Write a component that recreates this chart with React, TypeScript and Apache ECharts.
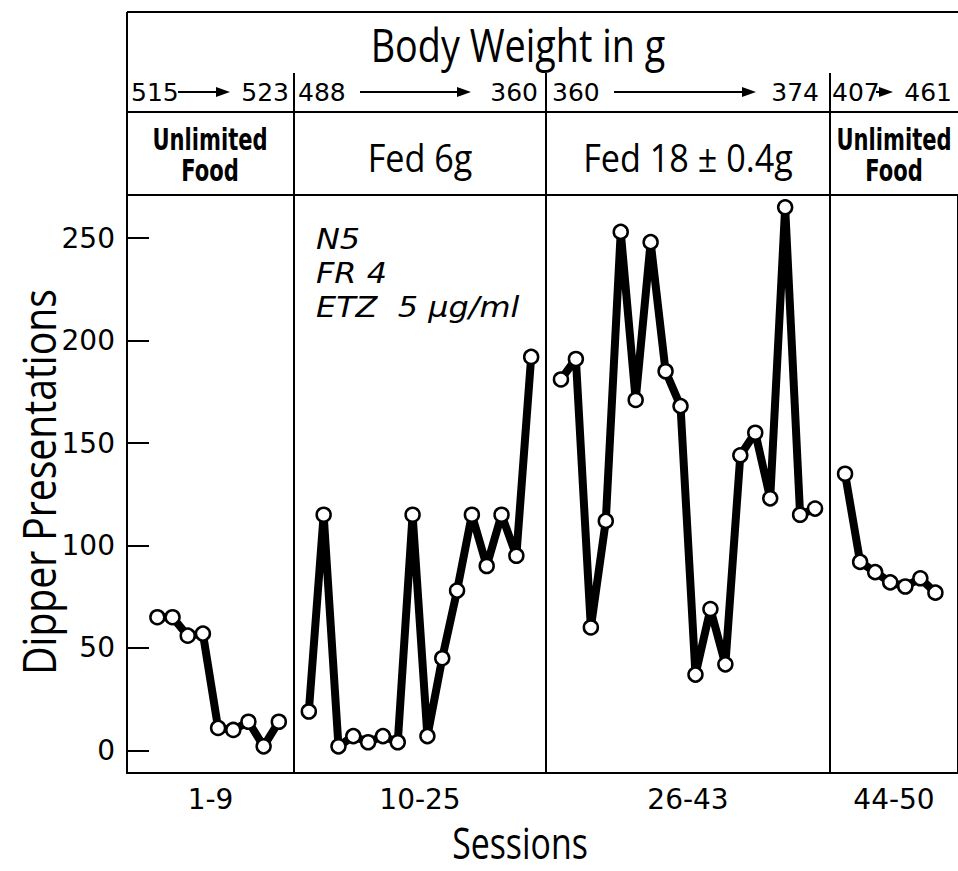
import React, { useEffect, useRef } from "react";
import * as echarts from "echarts";

// Sessions per phase
const sessions1 = [1, 2, 3, 4, 5, 6, 7, 8, 9];
const sessions2 = [10, 11, 12, 13, 14, 15, 16, 17, 18, 19, 20, 21, 22, 23, 24, 25];
const sessions3 = [26, 27, 28, 29, 30, 31, 32, 33, 34, 35, 36, 37, 38, 39, 40, 41, 42, 43];
const sessions4 = [44, 45, 46, 47, 48, 49, 50];

// Dipper presentations per session
const dipper1 = [65, 65, 56, 57, 11, 10, 14, 2, 14];
const dipper2 = [19, 115, 2, 7, 4, 7, 4, 115, 7, 45, 78, 115, 90, 115, 95, 192];
const dipper3 = [181, 191, 60, 112, 253, 171, 248, 185, 168, 37, 69, 42, 144, 155, 123, 265, 115, 118];
const dipper4 = [135, 92, 87, 82, 80, 84, 77];

const yTicks = [0, 50, 100, 150, 200, 250];
const panelLabels = ["1-9", "10-25", "26-43", "44-50"];
const conditions = ["Unlimited\nFood", "Fed 6g", "Fed 18 \u00b1 0.4g", "Unlimited\nFood"];
const weightsFrom = ["515", "488", "360", "407"];
const weightsTo = ["523", "360", "374", "461"];
const notes = ["N5", "FR 4", "ETZ  5 \u03bcg/ml"];

const FONT = "'Open Sans', 'DejaVu Sans', sans-serif";
const NUM = "'DejaVu Sans', 'Open Sans', sans-serif";

const panels = [
  { left: 127, width: 167, min: -1, max: 10 },
  { left: 294, width: 252, min: 9, max: 26 },
  { left: 546, width: 284, min: 25, max: 44 },
  { left: 830, width: 136, min: 43, max: 51.5 },
];
const TOP = 195;
const HEIGHT = 578;

export default function App() {
  const ref = useRef<HTMLDivElement>(null);
  useEffect(() => {
    document.body.style.margin = "0";
    const chart = echarts.init(ref.current!, null, { renderer: "svg" });
    const sess = [sessions1, sessions2, sessions3, sessions4];
    const vals = [dipper1, dipper2, dipper3, dipper4];

    const lineEl = (x1: number, y1: number, x2: number, y2: number) => ({
      type: "line",
      shape: { x1, y1, x2, y2 },
      style: { stroke: "#000", lineWidth: 2 },
    });
    const text = (x: number, y: number, t: string, extra: any = {}, el: any = {}) => ({
      type: "text",
      x,
      y,
      ...el,
      style: {
        text: t,
        fill: "#000",
        fontFamily: FONT,
        fontSize: 28,
        align: "center",
        verticalAlign: "middle",
        ...extra,
      },
    });
    const arrow = (x1: number, x2: number, y: number) => [
      { type: "line", shape: { x1, y1: y, x2: x2 - 8, y2: y }, style: { stroke: "#000", lineWidth: 2 } },
      {
        type: "polygon",
        shape: { points: [[x2, y], [x2 - 14, y - 5], [x2 - 14, y + 5]] },
        style: { fill: "#000" },
      },
    ];

    const wy = 92;
    const wf = { fontSize: 25, fontFamily: NUM };
    const condCenters = [210, 420, 688, 894];
    const unl = { fontSize: 31, fontWeight: "bold", fontFamily: NUM, lineHeight: 31 };
    const note = { align: "left", fontSize: 29, fontStyle: "italic", fontFamily: NUM };
    const graphics: any[] = [
      lineEl(127, 12, 958, 12),
      lineEl(127, 12, 127, 195),
      lineEl(127, 112, 958, 112),
      lineEl(294, 73, 294, 195),
      lineEl(546, 73, 546, 195),
      lineEl(830, 73, 830, 195),
      text(518, 45, "Body Weight in g", { fontSize: 45 }, { scaleX: 0.84 }),
      // weights row
      text(131, wy, weightsFrom[0], { align: "left", ...wf }),
      ...arrow(178, 230, wy),
      text(289, wy, weightsTo[0], { align: "right", ...wf }),
      text(298, wy, weightsFrom[1], { align: "left", ...wf }),
      ...arrow(360, 471, wy),
      text(538, wy, weightsTo[1], { align: "right", ...wf }),
      text(552, wy, weightsFrom[2], { align: "left", ...wf }),
      ...arrow(614, 756, wy),
      text(819, wy, weightsTo[2], { align: "right", ...wf }),
      text(832, wy, weightsFrom[3], { align: "left", ...wf }),
      ...arrow(876, 893, wy),
      text(952, wy, weightsTo[3], { align: "right", ...wf }),
      // conditions row
      text(condCenters[0], 154, conditions[0], unl, { scaleX: 0.68 }),
      text(condCenters[1], 157, conditions[1], { fontSize: 38 }, { scaleX: 0.9 }),
      text(condCenters[2], 157, conditions[2], { fontSize: 38 }, { scaleX: 0.9 }),
      text(condCenters[3], 154, conditions[3], unl, { scaleX: 0.68 }),
      // annotation
      text(316, 239, notes[0], note, { scaleX: 1.1 }),
      text(316, 273, notes[1], note, { scaleX: 1.1 }),
      text(316, 307, notes[2], note, { scaleX: 1.1 }),
      // axis titles
      text(520, 842, "Sessions", { fontSize: 44, lineHeight: 44 }, { scaleX: 0.77 }),
      text(38, 482, "Dipper Presentations", { fontSize: 46 }, { rotation: Math.PI / 2, scaleX: 0.85 }),
    ];

    const option: any = {
      animation: false,
      backgroundColor: "#fff",
      grid: panels.map((p) => ({
        left: p.left,
        top: TOP,
        width: p.width,
        height: HEIGHT,
        show: true,
        borderColor: "#000",
        borderWidth: 2,
        backgroundColor: "transparent",
      })),
      xAxis: panels.map((p, i) => ({
        gridIndex: i,
        type: "value",
        min: p.min,
        max: p.max,
        name: panelLabels[i],
        nameLocation: "middle",
        nameGap: 12,
        nameTextStyle: { fontSize: 28, color: "#000", fontFamily: NUM, verticalAlign: "top" },
        axisLine: { show: false, onZero: false },
        axisTick: { show: false },
        axisLabel: { show: false },
        splitLine: { show: false },
      })),
      yAxis: panels.map((p, i) => ({
        gridIndex: i,
        type: "value",
        min: -11,
        max: 271,
        show: i === 0,
        axisLine: { show: true, onZero: false, lineStyle: { color: "#000", width: 2 } },
        axisTick: {
          show: true,
          inside: true,
          length: 22,
          customValues: yTicks,
          lineStyle: { color: "#000", width: 2 },
        },
        axisLabel: {
          show: true,
          customValues: yTicks,
          fontSize: 28,
          color: "#000",
          fontFamily: NUM,
          margin: 12,
        },
        splitLine: { show: false },
      })),
      series: panels.map((p, i) => ({
        type: "line",
        xAxisIndex: i,
        yAxisIndex: i,
        data: sess[i].map((s, k) => [s, vals[i][k]]),
        symbol: "circle",
        symbolSize: 14,
        lineStyle: { color: "#000", width: 8 },
        itemStyle: { color: "#fff", borderColor: "#000", borderWidth: 2.5 },
        clip: false,
      })),
      graphic: graphics,
    };
    chart.setOption(option);
    return () => chart.dispose();
  }, []);
  return <div ref={ref} style={{ width: 958, height: 871 }} />;
}
